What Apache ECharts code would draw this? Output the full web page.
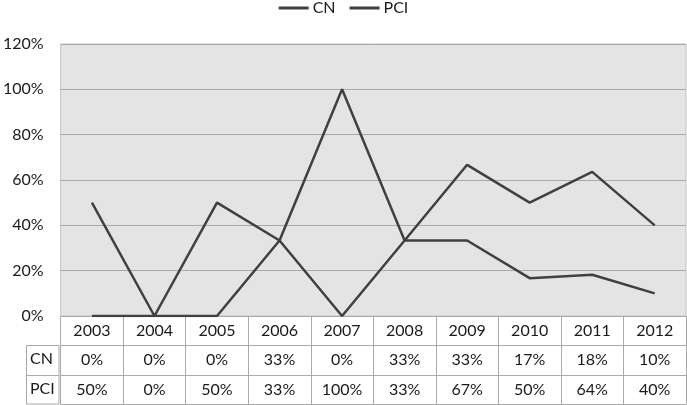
<!DOCTYPE html>
<html><head><meta charset="utf-8">
<script src="https://cdn.jsdelivr.net/npm/echarts@6/dist/echarts.min.js"></script>
<style>html,body{margin:0;padding:0;background:#fff}#c{width:687px;height:405px}</style>
</head><body><div id="c"></div>
<script>
const years = ['2003','2004','2005','2006','2007','2008','2009','2010','2011','2012'];
const cn  = [0, 0, 0, 0.333, 0, 0.333, 0.333, 0.167, 0.182, 0.10];
const pci = [0.5, 0, 0.5, 0.333, 1.0, 0.333, 0.667, 0.5, 0.636, 0.40];
const yTicks = [0, 0.2, 0.4, 0.6, 0.8, 1.0, 1.2];
const rowNames = ['CN', 'PCI'];

const FONT = 'Lato';
const FS = 16;
const TXT = '#1a1a1a';
const GRIDC = '#a9a9a9';
const pct = v => Math.round(v * 100) + '%';

const chart = echarts.init(document.getElementById('c'));
const rowAxis = (offset, vals, showLabel) => ({
  type: 'category', data: years, position: 'bottom', offset: offset, gridIndex: 0,
  boundaryGap: true,
  axisLine: {show: true, lineStyle: {color: GRIDC, width: 1}},
  axisTick: {show: false},
  axisLabel: {show: showLabel, interval: 0, margin: 7, color: TXT, fontFamily: FONT, fontSize: FS,
    formatter: (v, i) => vals ? pct(vals[i]) : v},
  splitLine: {show: false}
});
const x0 = rowAxis(0, null, true);
x0.axisTick = {show: true, interval: 0, length: 88, lineStyle: {color: GRIDC, width: 1}};

chart.setOption({
  animation: false,
  backgroundColor: '#fff',
  legend: {
    top: 0, left: 'center', padding: [0, 5, 0, 5], icon: 'rect', itemWidth: 30, itemHeight: 3, itemGap: 14,
    textStyle: {fontFamily: FONT, fontSize: FS, color: TXT, padding: [0,0,0,-1]},
    data: ['CN', 'PCI']
  },
  grid: {left: 59, right: 1, top: 44, bottom: 89, show: true, backgroundColor: '#e4e4e4',
    borderWidth: 1, borderColor: '#c4c4c4'},
  xAxis: [x0, rowAxis(29, cn, true), rowAxis(59, pci, true), rowAxis(88, null, false)],
  yAxis: {
    type: 'value', min: 0, max: 1.2, interval: 0.2,
    axisLine: {show: false}, axisTick: {show: false},
    axisLabel: {margin: 17, color: TXT, fontFamily: FONT, fontSize: FS,
      formatter: v => yTicks.some(t => Math.abs(t - v) < 1e-9) ? pct(v) : ''},
    splitLine: {lineStyle: {color: GRIDC, width: 1}}
  },
  graphic: [
    {type: 'rect', shape: {x: 26.5, y: 345.5, width: 32.5, height: 58.5}, style: {fill: '#fff', stroke: GRIDC, lineWidth: 1}, z: 10},
    {type: 'line', shape: {x1: 26.5, y1: 375.5, x2: 59, y2: 375.5}, style: {stroke: GRIDC, lineWidth: 1}, z: 10},
    {type: 'text', left: 30, top: 351, style: {text: rowNames[0], font: FS + 'px ' + FONT, fill: TXT}, z: 11},
    {type: 'text', left: 30, top: 381, style: {text: rowNames[1], font: FS + 'px ' + FONT, fill: TXT}, z: 11}
  ],
  series: [
    {name: 'CN', type: 'line', data: cn, xAxisIndex: 0, showSymbol: false, symbol: 'none',
      lineStyle: {color: '#404040', width: 2.5}, itemStyle: {color: '#404040'}},
    {name: 'PCI', type: 'line', data: pci, xAxisIndex: 0, showSymbol: false, symbol: 'none',
      lineStyle: {color: '#404040', width: 2.5}, itemStyle: {color: '#404040'}}
  ]
});
</script></body></html>
